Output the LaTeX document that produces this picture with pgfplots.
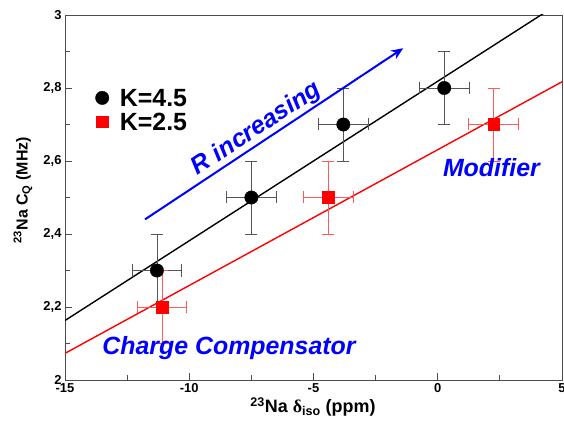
\documentclass[border=0pt]{standalone}
\usepackage{pgfplots}
\pgfplotsset{compat=1.18}
\usepackage{pgfplotstable}
\usepackage{fontspec}
\setmainfont{Liberation Sans}
\newfontfamily\greekfont{Liberation Serif}
\usetikzlibrary{arrows.meta}
\pgfplotstableread{
x y ex ey
-11.3 2.3 1 0.1
-7.5 2.5 1 0.1
-3.8 2.7 1 0.1
0.26 2.8 1 0.1
}\kfour
\pgfplotstableread{
x y ex ey
-11.1 2.2 1 0.1
-4.4 2.5 1 0.1
2.25 2.7 1 0.1
}\ktwo
\definecolor{errblack}{RGB}{85,85,85}
\definecolor{errred}{RGB}{255,90,90}
\begin{document}
\begin{tikzpicture}
\begin{axis}[
  name=ax,
  scale only axis, width=497bp, height=365bp,
  xmin=-15, xmax=5, ymin=2, ymax=3,
  xtick={-15,-10,-5,0,5}, ytick={2,2.2,2.4,2.6,2.8,3},
  minor x tick num=1, minor y tick num=1,
  tick pos=left, tick align=inside,
  major tick length=7bp, minor tick length=5bp,
  axis line style={draw=black!70, line width=0.8pt},
  every tick/.style={black!70, line width=0.8pt},
  tick label style={font=\fontsize{13}{15}\selectfont\bfseries},
  /pgf/number format/assume math mode=true,
  /pgf/number format/use comma,
  xlabel={\textsuperscript{23}Na {\greekfont δ}\textsubscript{iso} (ppm)},
  ylabel={\textsuperscript{23}Na C\textsubscript{Q} (MHz)},
  every axis x label/.style={at={(axis description cs:0.499,0)}, yshift=-27bp, anchor=center, font=\fontsize{18}{20}\selectfont\bfseries},
  every axis y label/.style={at={(axis description cs:0,0.52)}, xshift=-42bp, rotate=90, anchor=center, font=\fontsize{16}{18}\selectfont\bfseries},
  legend style={draw=none, fill=none, at={(axis description cs:0.055,0.74)}, anchor=west,
    font=\fontsize{25}{27}\selectfont\bfseries, row sep=4bp,
    nodes={inner sep=1pt, text height=18bp, text depth=0bp}},
  legend cell align=left,
]
\addlegendimage{only marks, mark=*, black, mark size=6.7bp}
\addlegendentry{\hspace{10bp}K=4.5}
\addlegendimage{only marks, mark=square*, red, mark size=5.8bp}
\addlegendentry{\hspace{10bp}K=2.5}

\addplot[black, line width=1.4bp, forget plot] coordinates {(-15,2.163) (5,3.037)};
\addplot[red, line width=1.4bp, forget plot] coordinates {(-15,2.073) (5,2.817)};

\addplot[forget plot, only marks, mark=*, black, mark size=6.7bp,
  error bars/.cd, x dir=both, x explicit, y dir=both, y explicit,
  error bar style={errblack, line width=0.8pt},
  error mark options={rotate=90, errblack, line width=0.8pt, mark size=6bp}]
  table[x=x, y=y, x error=ex, y error=ey] {\kfour};
\addplot[forget plot, only marks, mark=square*, red, mark size=5.8bp,
  error bars/.cd, x dir=both, x explicit, y dir=both, y explicit,
  error bar style={errred, line width=0.8pt},
  error mark options={rotate=90, errred, line width=0.8pt, mark size=6bp}]
  table[x=x, y=y, x error=ex, y error=ey] {\ktwo};

\draw[blue, line width=2bp, -{Stealth[length=12bp, width=10bp]}] (axis cs:-11.78,2.440) -- (axis cs:-1.39,2.909);
\node[blue, font=\fontsize{25}{27}\selectfont\bfseries\itshape, rotate=33.5] at (axis cs:-7.29,2.687) {R increasing};
\node[blue, font=\fontsize{25}{27}\selectfont\bfseries\itshape] at (axis cs:2.16,2.582) {Modifier};
\node[blue, font=\fontsize{25}{27}\selectfont\bfseries\itshape] at (axis cs:-8.4,2.088) {Charge Compensator};
\end{axis}
\pgfresetboundingbox
\path[use as bounding box] ([xshift=-65bp,yshift=-46bp]ax.south west) rectangle ([xshift=2bp,yshift=15bp]ax.north east);
\end{tikzpicture}
\end{document}
